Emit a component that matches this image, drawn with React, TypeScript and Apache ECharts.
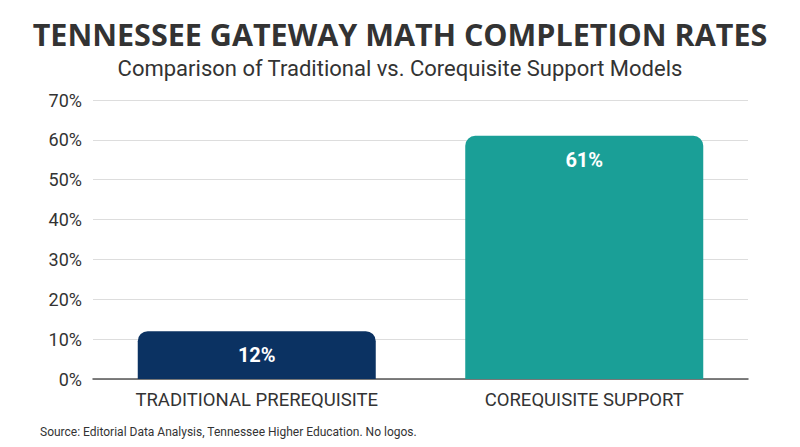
import React, { useEffect, useRef } from 'react';
import * as echarts from 'echarts';

const categories = ['TRADITIONAL PREREQUISITE', 'COREQUISITE SUPPORT'];
const completionRates = [12, 61];
const barColors = ['#0b3262', '#1a9f97'];
const yTicks = [0, 10, 20, 30, 40, 50, 60, 70];

const App: React.FC = () => {
  const chartRef = useRef<HTMLDivElement>(null);

  useEffect(() => {
    if (!chartRef.current) return;
    const chart = echarts.init(chartRef.current, null, { renderer: 'svg' });

    chart.setOption({
      animation: false,
      backgroundColor: '#ffffff',
      title: [
        {
          text: 'TENNESSEE GATEWAY MATH COMPLETION RATES',
          left: 'center',
          top: 13,
          textStyle: { fontFamily: 'Open Sans', fontSize: 30.5, fontWeight: 700, color: '#333333' }
        },
        {
          text: 'Comparison of Traditional vs. Corequisite Support Models',
          left: 'center',
          top: 52,
          textStyle: { fontFamily: 'Roboto', fontSize: 22, fontWeight: 'normal', color: '#333333' }
        },
        {
          text: 'Source: Editorial Data Analysis, Tennessee Higher Education. No logos.',
          left: 35,
          top: 421,
          textStyle: { fontFamily: 'Roboto', fontSize: 12, fontWeight: 'normal', color: '#333333' }
        }
      ],
      grid: { left: 93, right: 52, top: 100, bottom: 68, containLabel: false },
      xAxis: {
        type: 'category',
        data: categories,
        axisLine: { lineStyle: { color: '#555555', width: 1.5 } },
        axisTick: { show: false },
        axisLabel: { fontFamily: 'Roboto', fontSize: 18.5, color: '#333333', margin: 11 }
      },
      yAxis: {
        type: 'value',
        min: yTicks[0],
        max: yTicks[yTicks.length - 1],
        interval: 10,
        axisLine: { show: false },
        axisTick: { show: false },
        axisLabel: {
          fontFamily: 'Roboto',
          fontSize: 18,
          color: '#333333',
          margin: 11,
          formatter: (v: number) => `${v}%`
        },
        splitLine: { lineStyle: { color: '#dddddd', width: 1 } }
      },
      series: [
        {
          type: 'bar',
          barWidth: 238,
          data: completionRates.map((v, i) => ({
            value: v,
            itemStyle: { color: barColors[i], borderRadius: [10, 10, 0, 0] }
          })),
          label: {
            show: true,
            position: 'insideTop',
            distance: 14,
            formatter: '{c}%',
            fontFamily: 'Roboto',
            fontSize: 20,
            fontWeight: 'bold',
            color: '#ffffff'
          }
        }
      ]
    });

    return () => chart.dispose();
  }, []);

  return <div ref={chartRef} style={{ width: 800, height: 447, margin: -8 }} />;
};

export default App;
